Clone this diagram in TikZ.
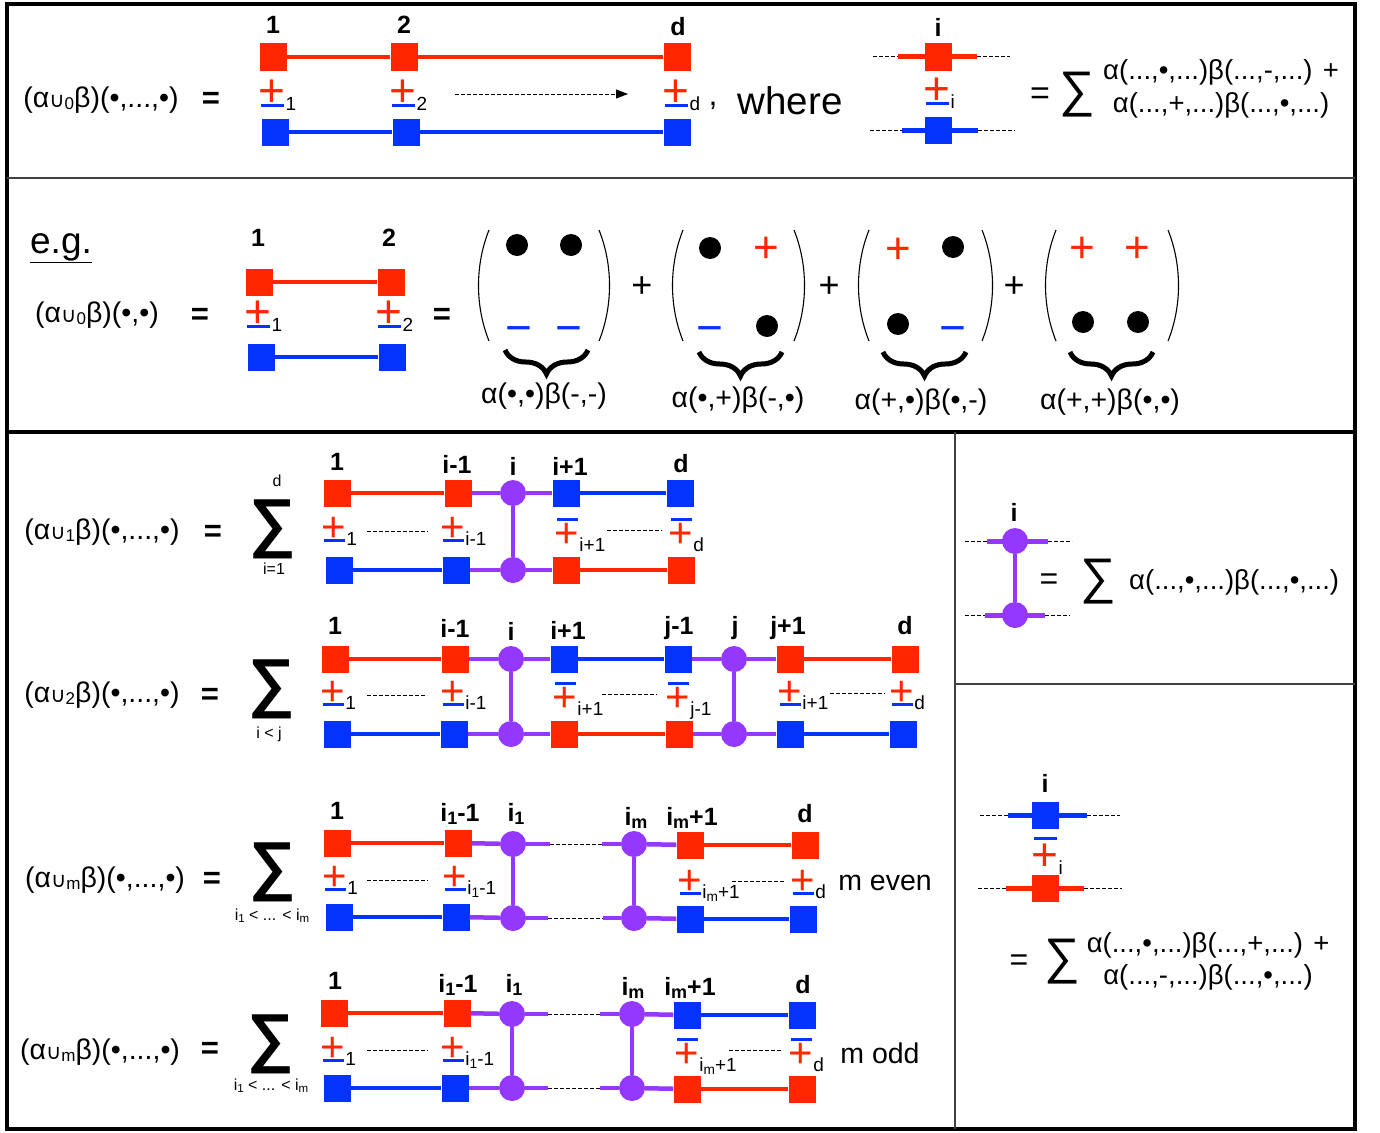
\documentclass[tikz,border=0pt]{standalone}
\usepackage{fontspec}
\setmainfont{Liberation Sans}
\newfontfamily\djv{DejaVu Sans}
\usetikzlibrary{arrows.meta,decorations.pathreplacing}
\definecolor{cr}{HTML}{FF2600}
\definecolor{cb}{HTML}{0433FF}
\definecolor{cp}{HTML}{9437FF}
\newcommand\cupsub[1]{{\djv\fontsize{21}{21}\selectfont ∪}\raisebox{-2.5pt}{\fontsize{17}{17}\selectfont #1}}
\newcommand\lowsub[1]{\raisebox{-0.12em}{\scalebox{0.72}{#1}}}
\newcommand\PMx[1]{\mbox{\ooalign{\textcolor{cr}{+}\cr\hidewidth\textcolor{cb}{\rule[-0.5pt]{0.5em}{3pt}}\hidewidth\cr}\raisebox{-4pt}{\fontsize{19}{19}\selectfont #1}}}
\newcommand\MPx[1]{\mbox{\ooalign{\textcolor{cr}{+}\cr\hidewidth\textcolor{cb}{\rule[0.65em]{0.5em}{3pt}}\hidewidth\cr}\raisebox{-4pt}{\fontsize{19}{19}\selectfont #1}}}
\tikzset{
  txt/.style={inner sep=0, font=\fontsize{28.5}{28.5}\selectfont},
  lab/.style={inner sep=0, font=\bfseries\fontsize{25}{25}\selectfont},
  eqs/.style={inner sep=0, font=\bfseries\fontsize{31}{31}\selectfont},
  sumb/.style={inner sep=0, font=\bfseries\fontsize{65}{65}\selectfont},
  lim/.style={inner sep=0, font=\fontsize{16}{16}\selectfont},
  sqr/.style={rectangle, fill=cr, minimum size=27pt, inner sep=0},
  sqb/.style={rectangle, fill=cb, minimum size=27pt, inner sep=0},
  pdot/.style={circle, fill=cp, minimum size=26pt, inner sep=0},
  bdot/.style={circle, fill=black, minimum size=22pt, inner sep=0},
  rl/.style={draw=cr, line width=4.5pt},
  bl/.style={draw=cb, line width=4.5pt},
  pl/.style={draw=cp, line width=4.5pt},
  dsh/.style={draw=black, line width=1pt, dash pattern=on 4pt off 2pt},
  par/.style={draw=black, line width=1.1pt},
  brc/.style={draw=black, line width=5pt, decorate, decoration={brace, amplitude=24pt}},
  pmn/.style={inner sep=0, anchor=base west, xshift=-12.3pt, yshift=-14.8pt, font=\fontsize{42}{42}\selectfont},
  pmbig/.style={inner sep=0, anchor=base west, xshift=-13.4pt, yshift=-16.2pt, font=\fontsize{46}{46}\selectfont},
  gplus/.style={inner sep=0, anchor=base, yshift=-15.5pt, font=\fontsize{44}{44}\selectfont, text=cr},
  gminus/.style={inner sep=0, anchor=base, yshift=-16.2pt, font=\fontsize{46}{46}\selectfont, text=cb},
  bplus/.style={inner sep=0, anchor=base, yshift=-12.7pt, font=\fontsize{36}{36}\selectfont},
}
\begin{document}
\begin{tikzpicture}[x=1pt,y=-1pt]
\useasboundingbox (0,0) rectangle (1380,1132);
% ---------- frame ----------
\draw[line width=4pt] (7,4) rectangle (1355,1129);
\draw[line width=1.2pt, black!75] (7,178) -- (1355,178);
\draw[line width=4pt] (7,432) -- (1355,432);
\draw[line width=1.2pt, black!75] (955,432) -- (955,1129);
\draw[line width=1.2pt, black!75] (955,684) -- (1355,684);

% ---------- panel 1 ----------
\node[txt] (f0) at (101,100) {(α\cupsub{0}β)(•,...,•)};
\node[eqs] (e0) at (211,100) {=};
\node[lab] (l1) at (273,25) {1};
\node[lab] (l2) at (404,25) {2};
\node[lab] (ld) at (678,27) {d};
\node[sqr] (t1) at (273,57) {};
\node[sqr] (t2) at (404,57) {};
\node[sqr] (td) at (677,57) {};
\node[sqb] (b1) at (275,132) {};
\node[sqb] (b2) at (406,132) {};
\node[sqb] (bd) at (677,132) {};
\draw[rl] (t1) -- (t2); \draw[rl] (t2) -- (td);
\draw[bl] (b1) -- (b2); \draw[bl] (b2) -- (bd);
\node[pmbig] (p1) at (272,90) {\PMx{1}};
\node[pmbig] (p2) at (403,90) {\PMx{2}};
\node[pmbig] (pd) at (676,90) {\PMx{d}};
\coordinate (ar1) at (455,94); \coordinate (ar2) at (628,94);
\draw[dsh, -{Triangle[length=12pt,width=9pt]}] (ar1) -- (ar2);
\node[txt, font=\fontsize{32}{32}\selectfont] (cm) at (713,106) {,};
\node[inner sep=0, font=\fontsize{38.5}{38.5}\selectfont] (wh) at (790,101) {where};
% where-figure
\node[lab] (wi) at (938,27) {i};
\coordinate (wa) at (873,57); \coordinate (wb) at (898,57);
\coordinate (wc) at (977,57); \coordinate (wd) at (1010,57);
\draw[dsh] (wa) -- (wb); \draw[rl, line width=5pt] (wb) -- (wc); \draw[dsh] (wc) -- (wd);
\node[sqr] (wr) at (938,57) {};
\coordinate (wa2) at (870,130); \coordinate (wb2) at (902,130);
\coordinate (wc2) at (978,130); \coordinate (wd2) at (1015,130);
\draw[dsh] (wa2) -- (wb2); \draw[bl, line width=5pt] (wb2) -- (wc2); \draw[dsh] (wc2) -- (wd2);
\node[sqb] (wbq) at (938,130) {};
\node[pmbig] (wpm) at (937,88) {\PMx{i}};
\node[inner sep=0, font=\fontsize{34}{34}\selectfont] (we) at (1040,96) {=};
\node[inner sep=0, font=\fontsize{50}{50}\selectfont] (ws) at (1077,95) {∑};
\node[inner sep=0, align=center, font=\fontsize{27.5}{33}\selectfont] (wt) at (1221,89) {α(...,•,...)β(...,-,...) +\\α(...,+,...)β(...,•,...)};

% ---------- panel 2 ----------
\node[inner sep=0, font=\fontsize{37}{37}\selectfont] (eg) at (61,248) {\underline{e.g.}};
\node[txt] (f00) at (97,315) {(α\cupsub{0}β)(•,•)};
\node[eqs] (e00) at (200,316) {=};
\node[lab] (g1) at (258,238) {1};
\node[lab] (g2) at (389,238) {2};
\node[sqr] (gt1) at (259,282) {};
\node[sqr] (gt2) at (391,282) {};
\node[sqb] (gb1) at (261,357) {};
\node[sqb] (gb2) at (392,357) {};
\draw[rl] (gt1) -- (gt2);
\draw[bl] (gb1) -- (gb2);
\node[pmbig] (gp1) at (258,311) {\PMx{1}};
\node[pmbig] (gp2) at (389,311) {\PMx{2}};
\node[eqs] (e01) at (442,316) {=};
% matrix 1
\draw[par] (489,230) .. controls (475,265) and (475,306) .. (489,341);
\draw[par] (599,230) .. controls (613,265) and (613,306) .. (599,341);
\node[bdot] (m1a) at (517,245) {};
\node[bdot] (m1b) at (571,245) {};
\node[gminus] (m1c) at (519,327) {−};
\node[gminus] (m1d) at (569,327) {−};
\draw[brc] (588,350) -- (505,350);
\node[txt] (m1l) at (544,396) {α(•,•)β(-,-)};
\node[bplus] (pl1) at (642,285) {+};
% matrix 2
\draw[par] (683,230) .. controls (669,265) and (669,306) .. (683,341);
\draw[par] (794,230) .. controls (808,265) and (808,306) .. (794,341);
\node[bdot] (m2a) at (710,248) {};
\node[gplus] (m2b) at (766,247) {+};
\node[gminus] (m2c) at (710,327) {−};
\node[bdot] (m2d) at (767,326) {};
\draw[brc] (782,352) -- (699,352);
\node[txt] (m2l) at (738,400) {α(•,+)β(-,•)};
\node[bplus] (pl2) at (829,285) {+};
% matrix 3
\draw[par] (869,230) .. controls (855,265) and (855,306) .. (869,341);
\draw[par] (982,230) .. controls (996,265) and (996,306) .. (982,341);
\node[gplus] (m3a) at (898,248) {+};
\node[bdot] (m3b) at (953,247) {};
\node[bdot] (m3c) at (898,324) {};
\node[gminus] (m3d) at (953,327) {−};
\draw[brc] (966,352) -- (883,352);
\node[txt] (m3l) at (921,402) {α(+,•)β(•,-)};
\node[bplus] (pl3) at (1014,285) {+};
% matrix 4
\draw[par] (1056,230) .. controls (1042,265) and (1042,306) .. (1056,341);
\draw[par] (1168,230) .. controls (1182,265) and (1182,306) .. (1168,341);
\node[gplus] (m4a) at (1082,247) {+};
\node[gplus] (m4b) at (1137,247) {+};
\node[bdot] (m4c) at (1083,322) {};
\node[bdot] (m4d) at (1138,322) {};
\draw[brc] (1153,352) -- (1070,352);
\node[txt] (m4l) at (1110,402) {α(+,+)β(•,•)};

% ---------- row U1 ----------
\node[txt] (f1) at (102,532) {(α\cupsub{1}β)(•,...,•)};
\node[eqs] (e1) at (213,533) {=};
\node[sumb] (s1) at (273,529) {∑};
\node[lim] (s1t) at (277,481) {d};
\node[lim] (s1b) at (274,569) {i=1};
\node[lab] (a1) at (337,462) {1};
\node[lab] (a2) at (457,464) {i-1};
\node[lab] (a3) at (513,466) {i};
\node[lab] (a4) at (570,466) {i+1};
\node[lab] (a5) at (681,464) {d};
\node[sqr] (a1t) at (337,493) {};
\node[sqr] (a2t) at (458,493) {};
\node[pdot] (a3t) at (513,493) {};
\node[sqb] (a4t) at (566,493) {};
\node[sqb] (a5t) at (680,493) {};
\node[sqb] (a1b) at (339,570) {};
\node[sqb] (a2b) at (456,570) {};
\node[pdot] (a3b) at (513,570) {};
\node[sqr] (a4b) at (566,570) {};
\node[sqr] (a5b) at (681,570) {};
\draw[rl] (a1t) -- (a2t); \draw[pl] (a2t) -- (a3t); \draw[pl] (a3t) -- (a4t); \draw[bl] (a4t) -- (a5t);
\draw[bl] (a1b) -- (a2b); \draw[pl] (a2b) -- (a3b); \draw[pl] (a3b) -- (a4b); \draw[rl] (a4b) -- (a5b);
\draw[pl] (a3t) -- (a3b);
\node[pmn] (a1p) at (334,527) {\PMx{1}};
\node[pmn] (a2p) at (453,527) {\PMx{i-1}};
\node[pmn] (a4p) at (567,533) {\MPx{i+1}};
\node[pmn] (a5p) at (681,533) {\MPx{d}};
\coordinate (a1d1) at (367,531); \coordinate (a1d2) at (428,531);
\coordinate (a4d1) at (607,530); \coordinate (a4d2) at (662,530);
\draw[dsh] (a1d1) -- (a1d2); \draw[dsh] (a4d1) -- (a4d2);

% ---------- row U2 ----------
\node[txt] (f2) at (102,695) {(α\cupsub{2}β)(•,...,•)};
\node[eqs] (e2) at (210,696) {=};
\node[sumb] (s2) at (272,689) {∑};
\node[lim] (s2b) at (269,734) {i < j};
\node[lab] (c1) at (335,626) {1};
\node[lab] (c2) at (455,628) {i-1};
\node[lab] (c3) at (511,631) {i};
\node[lab] (c4) at (568,630) {i+1};
\node[lab] (c5) at (679,628) {j-1};
\node[lab] (c6) at (735,628) {j};
\node[lab] (c7) at (788,628) {j+1};
\node[lab] (c8) at (905,626) {d};
\node[sqr] (c1t) at (335,659) {};
\node[sqr] (c2t) at (455,659) {};
\node[pdot] (c3t) at (511,659) {};
\node[sqb] (c4t) at (564,659) {};
\node[sqb] (c5t) at (678,659) {};
\node[pdot] (c6t) at (734,659) {};
\node[sqr] (c7t) at (790,659) {};
\node[sqr] (c8t) at (905,659) {};
\node[sqb] (c1b) at (337,734) {};
\node[sqb] (c2b) at (454,734) {};
\node[pdot] (c3b) at (511,734) {};
\node[sqr] (c4b) at (564,734) {};
\node[sqr] (c5b) at (679,734) {};
\node[pdot] (c6b) at (734,734) {};
\node[sqb] (c7b) at (790,734) {};
\node[sqb] (c8b) at (903,734) {};
\draw[rl] (c1t) -- (c2t); \draw[pl] (c2t) -- (c3t); \draw[pl] (c3t) -- (c4t); \draw[bl] (c4t) -- (c5t);
\draw[pl] (c5t) -- (c6t); \draw[pl] (c6t) -- (c7t); \draw[rl] (c7t) -- (c8t);
\draw[bl] (c1b) -- (c2b); \draw[pl] (c2b) -- (c3b); \draw[pl] (c3b) -- (c4b); \draw[rl] (c4b) -- (c5b);
\draw[pl] (c5b) -- (c6b); \draw[pl] (c6b) -- (c7b); \draw[bl] (c7b) -- (c8b);
\draw[pl] (c3t) -- (c3b); \draw[pl] (c6t) -- (c6b);
\node[pmn] (c1p) at (333,691) {\PMx{1}};
\node[pmn] (c2p) at (453,691) {\PMx{i-1}};
\node[pmn] (c4p) at (565,697) {\MPx{i+1}};
\node[pmn] (c5p) at (678,697) {\MPx{j-1}};
\node[pmn] (c7p) at (790,691) {\PMx{i+1}};
\node[pmn] (c8p) at (902,691) {\PMx{d}};
\coordinate (c1d1) at (367,695); \coordinate (c1d2) at (427,695);
\coordinate (c4d1) at (602,694); \coordinate (c4d2) at (657,694);
\coordinate (c7d1) at (830,693); \coordinate (c7d2) at (885,693);
\draw[dsh] (c1d1) -- (c1d2); \draw[dsh] (c4d1) -- (c4d2); \draw[dsh] (c7d1) -- (c7d2);

% ---------- row Um (even) ----------
\node[txt] (f3) at (105,880) {(α\cupsub{m}β)(•,...,•)};
\node[eqs] (e3) at (212,880) {=};
\node[sumb] (s3) at (273,872) {∑};
\node[lim] (s3b) at (272,916) {i\lowsub{1} < ... < i\lowsub{m}};
\node[lab] (d1) at (337,811) {1};
\node[lab] (d2) at (460,814) {i\lowsub{1}-1};
\node[lab] (d3) at (516,814) {i\lowsub{1}};
\node[lab] (d4) at (636,818) {i\lowsub{m}};
\node[lab] (d5) at (692,818) {i\lowsub{m}+1};
\node[lab] (d6) at (805,814) {d};
\node[sqr] (d1t) at (337,843) {};
\node[sqr] (d2t) at (458,843) {};
\node[pdot] (d3t) at (513,844) {};
\node[pdot] (d4t) at (634,844) {};
\node[sqr] (d5t) at (690,845) {};
\node[sqr] (d6t) at (805,845) {};
\node[sqb] (d1b) at (339,917) {};
\node[sqb] (d2b) at (456,917) {};
\node[pdot] (d3b) at (513,918) {};
\node[pdot] (d4b) at (634,918) {};
\node[sqb] (d5b) at (690,919) {};
\node[sqb] (d6b) at (803,919) {};
\coordinate (dm1) at (550,844); \coordinate (dm2) at (602,844);
\coordinate (dm3) at (548,918); \coordinate (dm4) at (603,918);
\draw[rl] (d1t) -- (d2t); \draw[pl] (d2t) -- (d3t); \draw[pl] (d3t) -- (dm1); \draw[dsh] (dm1) -- (dm2);
\draw[pl] (dm2) -- (d4t); \draw[pl] (d4t) -- (d5t); \draw[rl] (d5t) -- (d6t);
\draw[bl] (d1b) -- (d2b); \draw[pl] (d2b) -- (d3b); \draw[pl] (d3b) -- (dm3); \draw[dsh] (dm3) -- (dm4);
\draw[pl] (dm4) -- (d4b); \draw[pl] (d4b) -- (d5b); \draw[bl] (d5b) -- (d6b);
\draw[pl] (d3t) -- (d3b); \draw[pl] (d4t) -- (d4b);
\node[pmn] (d1p) at (335,876) {\PMx{1}};
\node[pmn] (d2p) at (455,876) {\PMx{i\lowsub{1}-1}};
\node[pmn] (d5p) at (690,880) {\PMx{i\lowsub{m}+1}};
\node[pmn] (d6p) at (803,880) {\PMx{d}};
\coordinate (d1d1) at (367,880); \coordinate (d1d2) at (428,880);
\coordinate (d5d1) at (732,881); \coordinate (d5d2) at (785,881);
\draw[dsh] (d1d1) -- (d1d2); \draw[dsh] (d5d1) -- (d5d2);
\node[txt] (mev) at (885,883) {m even};

% ---------- row Um (odd) ----------
\node[txt] (f4) at (100,1052) {(α\cupsub{m}β)(•,...,•)};
\node[eqs] (e4) at (210,1050) {=};
\node[sumb] (s4) at (271,1044) {∑};
\node[lim] (s4b) at (271,1086) {i\lowsub{1} < ... < i\lowsub{m}};
\node[lab] (h1) at (335,981) {1};
\node[lab] (h2) at (458,985) {i\lowsub{1}-1};
\node[lab] (h3) at (514,985) {i\lowsub{1}};
\node[lab] (h4) at (633,988) {i\lowsub{m}};
\node[lab] (h5) at (690,988) {i\lowsub{m}+1};
\node[lab] (h6) at (803,985) {d};
\node[sqr] (h1t) at (334,1013) {};
\node[sqr] (h2t) at (457,1013) {};
\node[pdot] (h3t) at (512,1014) {};
\node[pdot] (h4t) at (632,1014) {};
\node[sqb] (h5t) at (687,1015) {};
\node[sqb] (h6t) at (802,1015) {};
\node[sqb] (h1b) at (337,1088) {};
\node[sqb] (h2b) at (455,1088) {};
\node[pdot] (h3b) at (512,1088) {};
\node[pdot] (h4b) at (632,1088) {};
\node[sqr] (h5b) at (687,1089) {};
\node[sqr] (h6b) at (802,1089) {};
\coordinate (hm1) at (548,1014); \coordinate (hm2) at (600,1014);
\coordinate (hm3) at (548,1088); \coordinate (hm4) at (600,1088);
\draw[rl] (h1t) -- (h2t); \draw[pl] (h2t) -- (h3t); \draw[pl] (h3t) -- (hm1); \draw[dsh] (hm1) -- (hm2);
\draw[pl] (hm2) -- (h4t); \draw[pl] (h4t) -- (h5t); \draw[bl] (h5t) -- (h6t);
\draw[bl] (h1b) -- (h2b); \draw[pl] (h2b) -- (h3b); \draw[pl] (h3b) -- (hm3); \draw[dsh] (hm3) -- (hm4);
\draw[pl] (hm4) -- (h4b); \draw[pl] (h4b) -- (h5b); \draw[rl] (h5b) -- (h6b);
\draw[pl] (h3t) -- (h3b); \draw[pl] (h4t) -- (h4b);
\node[pmn] (h1p) at (333,1047) {\PMx{1}};
\node[pmn] (h2p) at (453,1047) {\PMx{i\lowsub{1}-1}};
\node[pmn] (h5p) at (687,1053) {\MPx{i\lowsub{m}+1}};
\node[pmn] (h6p) at (801,1053) {\MPx{d}};
\coordinate (h1d1) at (367,1050); \coordinate (h1d2) at (428,1050);
\coordinate (h5d1) at (729,1050); \coordinate (h5d2) at (783,1050);
\draw[dsh] (h1d1) -- (h1d2); \draw[dsh] (h5d1) -- (h5d2);
\node[txt] (mod) at (880,1053) {m odd};

% ---------- right upper ----------
\node[lab] (ri) at (1014,512) {i};
\coordinate (ru1) at (965,541); \coordinate (ru2) at (987,541);
\coordinate (ru3) at (1048,541); \coordinate (ru4) at (1072,541);
\draw[dsh] (ru1) -- (ru2); \draw[pl, line width=5pt] (ru2) -- (ru3); \draw[dsh] (ru3) -- (ru4);
\coordinate (rv1) at (965,615); \coordinate (rv2) at (985,615);
\coordinate (rv3) at (1045,615); \coordinate (rv4) at (1070,615);
\draw[dsh] (rv1) -- (rv2); \draw[pl, line width=5pt] (rv2) -- (rv3); \draw[dsh] (rv3) -- (rv4);
\node[pdot] (rp1) at (1015,541) {};
\node[pdot] (rp2) at (1015,615) {};
\draw[pl] (rp1) -- (rp2);
\node[inner sep=0, font=\fontsize{32}{32}\selectfont] (re) at (1049,582) {=};
\node[inner sep=0, font=\fontsize{50}{50}\selectfont] (rs) at (1098,582) {∑};
\node[inner sep=0, anchor=west, font=\fontsize{27.5}{27.5}\selectfont] (rt) at (1129,582) {α(...,•,...)β(...,•,...)};

% ---------- right lower ----------
\node[lab] (li) at (1045,783) {i};
\coordinate (lu1) at (980,815); \coordinate (lu2) at (1008,815);
\coordinate (lu3) at (1087,815); \coordinate (lu4) at (1120,815);
\draw[dsh] (lu1) -- (lu2); \draw[bl, line width=5pt] (lu2) -- (lu3); \draw[dsh] (lu3) -- (lu4);
\node[sqb] (lb) at (1045,815) {};
\node[pmbig] (lmp) at (1045,854) {\MPx{i}};
\coordinate (lv1) at (978,888); \coordinate (lv2) at (1006,888);
\coordinate (lv3) at (1084,888); \coordinate (lv4) at (1122,888);
\draw[dsh] (lv1) -- (lv2); \draw[rl, line width=5pt] (lv2) -- (lv3); \draw[dsh] (lv3) -- (lv4);
\node[sqr] (lr) at (1045,888) {};
\node[inner sep=0, font=\fontsize{32}{32}\selectfont] (le) at (1019,963) {=};
\node[inner sep=0, font=\fontsize{50}{50}\selectfont] (ls) at (1062,962) {∑};
\node[inner sep=0, align=center, font=\fontsize{27.5}{32}\selectfont] (lt) at (1208,961) {α(...,•,...)β(...,+,...) +\\α(...,-,...)β(...,•,...)};
\end{tikzpicture}
\end{document}
